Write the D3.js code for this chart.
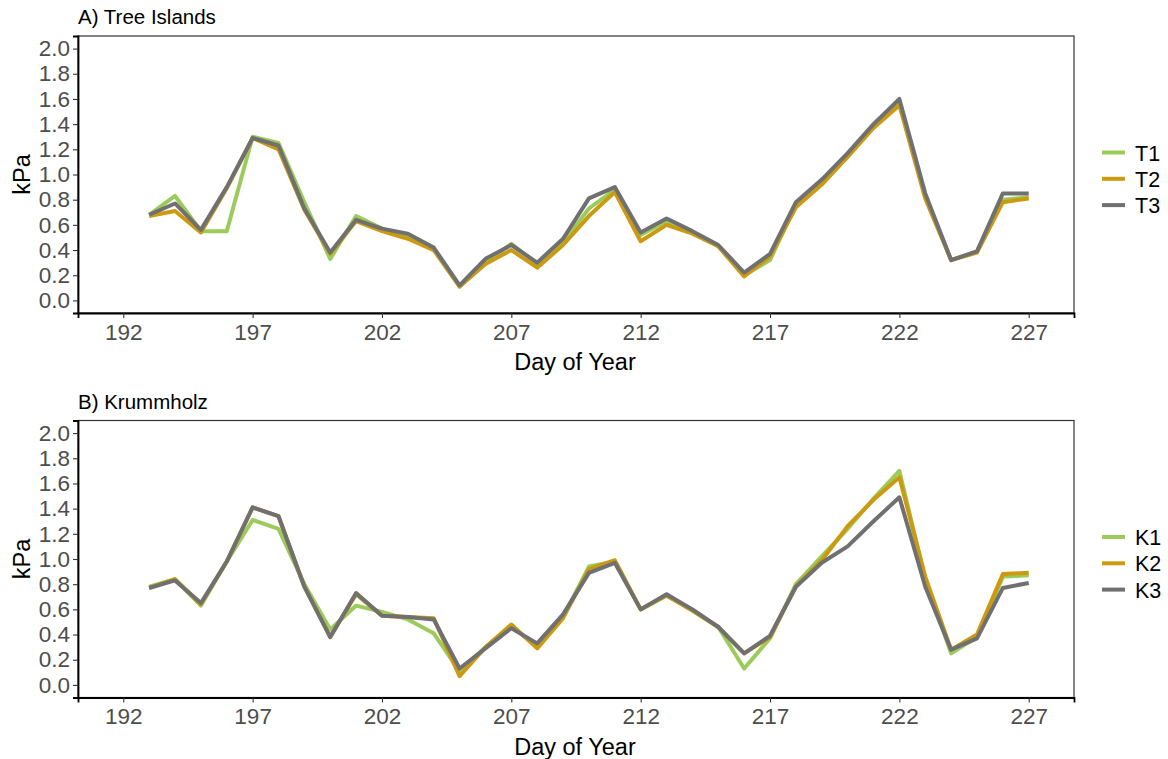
<!DOCTYPE html>
<html>
<head>
<meta charset="utf-8">
<script src="https://cdn.jsdelivr.net/npm/d3@7/dist/d3.min.js"></script>
<style>
  body { margin: 0; background: #fff; }
  svg { display: block; font-family: "Liberation Sans", Arial, sans-serif; }
</style>
</head>
<body>
<svg id="chart" width="1168" height="759"></svg>
<script>
// Day of year for each observation
const days = [193,194,195,196,197,198,199,200,201,202,203,204,205,206,207,208,209,210,
              211,212,213,214,215,216,217,218,219,220,221,222,223,224,225,226,227];

// Vapour pressure deficit (kPa), Tree Islands
const T1 = [0.68,0.83,0.55,0.55,1.30,1.25,0.78,0.33,0.67,0.57,0.50,0.41,0.11,0.30,0.45,0.29,0.46,0.73,
            0.88,0.52,0.63,0.54,0.43,0.20,0.32,0.76,0.94,1.16,1.39,1.58,0.83,0.32,0.39,0.80,0.82];
const T2 = [0.67,0.71,0.54,0.89,1.29,1.20,0.72,0.37,0.63,0.55,0.49,0.40,0.11,0.29,0.40,0.26,0.44,0.67,
            0.86,0.47,0.60,0.53,0.43,0.19,0.35,0.74,0.92,1.14,1.37,1.55,0.81,0.32,0.38,0.78,0.81];
const T3 = [0.68,0.77,0.56,0.90,1.29,1.23,0.73,0.38,0.64,0.57,0.53,0.42,0.12,0.33,0.44,0.30,0.49,0.81,
            0.90,0.54,0.65,0.55,0.44,0.22,0.37,0.78,0.96,1.17,1.40,1.60,0.85,0.32,0.39,0.85,0.85];

// Vapour pressure deficit (kPa), Krummholz
const K1 = [0.78,0.84,0.63,0.98,1.31,1.24,0.80,0.44,0.63,0.58,0.52,0.41,0.11,0.30,0.47,0.30,0.54,0.94,
            0.98,0.60,0.71,0.59,0.46,0.13,0.37,0.80,1.02,1.24,1.48,1.70,0.84,0.25,0.38,0.86,0.87];
const K2 = [0.77,0.84,0.64,0.98,1.41,1.34,0.78,0.38,0.72,0.55,0.54,0.53,0.07,0.30,0.48,0.29,0.53,0.92,
            0.99,0.60,0.71,0.59,0.46,0.25,0.38,0.78,0.99,1.26,1.47,1.65,0.86,0.28,0.40,0.88,0.89];
const K3 = [0.77,0.83,0.65,0.98,1.41,1.34,0.78,0.38,0.73,0.55,0.54,0.52,0.13,0.29,0.45,0.33,0.56,0.89,
            0.97,0.60,0.72,0.60,0.46,0.25,0.39,0.78,0.97,1.10,1.30,1.49,0.78,0.28,0.37,0.77,0.81];

const xTicks = [192,197,202,207,212,217,222,227];
const yTicks = [0,0.2,0.4,0.6,0.8,1.0,1.2,1.4,1.6,1.8,2.0];
const colors = ["#9acb5b", "#cc9a10", "#707070"];

const panels = [
  { title: "A) Tree Islands", names: ["T1","T2","T3"], series: [T1,T2,T3], top: 36 },
  { title: "B) Krummholz",   names: ["K1","K2","K3"], series: [K1,K2,K3], top: 420.5 }
];

const svg = d3.select("#chart");
const left = 78, right = 1074, plotH = 277;
const font = "Liberation Sans, Arial, sans-serif";

const x = d3.scaleLinear().domain([190.25, 228.75]).range([left, right]);

panels.forEach(p => {
  const y = d3.scaleLinear().domain([-0.1, 2.1]).range([p.top + plotH, p.top]);
  const g = svg.append("g");

  // panel title
  g.append("text")
    .attr("x", left).attr("y", p.top - 12)
    .attr("font-size", 20.5).attr("fill", "#000")
    .text(p.title);

  // panel frame
  g.append("rect")
    .attr("x", left).attr("y", p.top)
    .attr("width", right - left).attr("height", plotH)
    .attr("fill", "none").attr("stroke", "#333").attr("stroke-width", 1.2);

  // one line per site
  const line = d3.line().x((d, i) => x(days[i])).y(d => y(d));
  p.series.forEach((s, k) => {
    g.append("path")
      .datum(s)
      .attr("d", line)
      .attr("fill", "none")
      .attr("stroke", colors[k])
      .attr("stroke-width", 4)
      .attr("stroke-linejoin", "round");
  });

  // y axis
  const ya = g.append("g")
    .attr("transform", `translate(${left},0)`)
    .call(d3.axisLeft(y).tickValues(yTicks).tickFormat(d3.format(".1f")).tickSize(5).tickPadding(3));
  ya.select(".domain").attr("stroke", "#000").attr("stroke-width", 1.8);
  ya.selectAll(".tick line").attr("stroke", "#333").attr("stroke-width", 1.1);
  ya.selectAll(".tick text").attr("font-size", 22.5).attr("fill", "#4d4d4d").attr("font-family", font);

  // x axis
  const xa = g.append("g")
    .attr("transform", `translate(0,${p.top + plotH})`)
    .call(d3.axisBottom(x).tickValues(xTicks).tickFormat(d3.format("d")).tickSize(5).tickPadding(6));
  xa.select(".domain").attr("stroke", "#000").attr("stroke-width", 1.8);
  xa.selectAll(".tick line").attr("stroke", "#333").attr("stroke-width", 1.1);
  xa.selectAll(".tick text").attr("font-size", 22.5).attr("fill", "#4d4d4d").attr("font-family", font);

  // axis titles
  g.append("text")
    .attr("x", (left + right) / 2 - 1).attr("y", p.top + plotH + 57)
    .attr("text-anchor", "middle").attr("font-size", 23.5).attr("fill", "#000")
    .text("Day of Year");
  g.append("text")
    .attr("transform", `translate(30,${p.top + plotH / 2}) rotate(-90)`)
    .attr("text-anchor", "middle").attr("font-size", 23.5).attr("fill", "#000")
    .text("kPa");

  // legend
  const lg = g.append("g").attr("transform", `translate(1102,${p.top + 116.5})`);
  p.names.forEach((n, k) => {
    lg.append("line")
      .attr("x1", 0).attr("x2", 23)
      .attr("y1", k * 26.3).attr("y2", k * 26.3)
      .attr("stroke", colors[k]).attr("stroke-width", 4);
    lg.append("text")
      .attr("x", 33).attr("y", k * 26.3 + 8)
      .attr("font-size", 21.5).attr("fill", "#000")
      .text(n);
  });
});
</script>
</body>
</html>
